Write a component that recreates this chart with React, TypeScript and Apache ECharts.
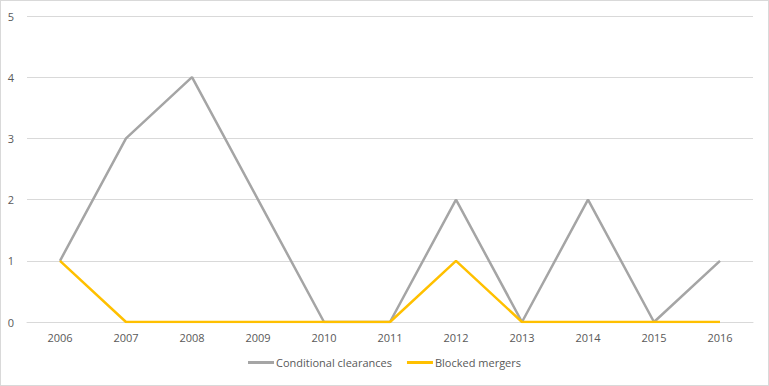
import React, { useEffect, useRef } from "react";
import * as echarts from "echarts";

const years = ["2006", "2007", "2008", "2009", "2010", "2011", "2012", "2013", "2014", "2015", "2016"];
const conditionalClearances = [1, 3, 4, 2, 0, 0, 2, 0, 2, 0, 1];
const blockedMergers = [1, 0, 0, 0, 0, 0, 1, 0, 0, 0, 0];

export default function App() {
  const ref = useRef<HTMLDivElement>(null);
  useEffect(() => {
    document.body.style.margin = "0";
    const chart = echarts.init(ref.current!, null, { renderer: "svg" });
    const font = "'Open Sans', 'Segoe UI', sans-serif";
    chart.setOption({
      animation: false,
      textStyle: { fontFamily: font },
      grid: { left: 26, right: 15, top: 15, bottom: 63, containLabel: false },
      legend: {
        bottom: 12,
        left: "center",
        itemWidth: 26,
        itemHeight: 3,
        itemGap: 15,
        textStyle: { color: "#595959", fontSize: 11, fontFamily: font, padding: [0, 0, 0, -3] },
        data: [
          { name: "Conditional clearances", icon: "rect" },
          { name: "Blocked mergers", icon: "rect" },
        ],
      },
      xAxis: {
        type: "category",
        data: years,
        boundaryGap: true,
        axisLine: { lineStyle: { color: "#D9D9D9" } },
        axisTick: { show: false },
        axisLabel: { color: "#595959", fontSize: 11, margin: 10, fontFamily: font },
      },
      yAxis: {
        type: "value",
        min: 0,
        max: 5,
        interval: 1,
        axisLine: { show: false },
        axisTick: { show: false },
        splitLine: { lineStyle: { color: "#D9D9D9" } },
        axisLabel: { color: "#595959", fontSize: 11, margin: 13, fontFamily: font },
      },
      series: [
        {
          name: "Conditional clearances",
          type: "line",
          data: conditionalClearances,
          symbol: "none",
          color: "#A5A5A5",
          lineStyle: { width: 2.5, color: "#A5A5A5" },
        },
        {
          name: "Blocked mergers",
          type: "line",
          data: blockedMergers,
          symbol: "none",
          color: "#FFC000",
          lineStyle: { width: 2.5, color: "#FFC000" },
        },
      ],
    });
    return () => chart.dispose();
  }, []);
  return (
    <div
      style={{
        width: 769,
        height: 386,
        boxSizing: "border-box",
        border: "1px solid #D9D9D9",
        background: "#fff",
      }}
    >
      <div ref={ref} style={{ width: 767, height: 384 }} />
    </div>
  );
}
